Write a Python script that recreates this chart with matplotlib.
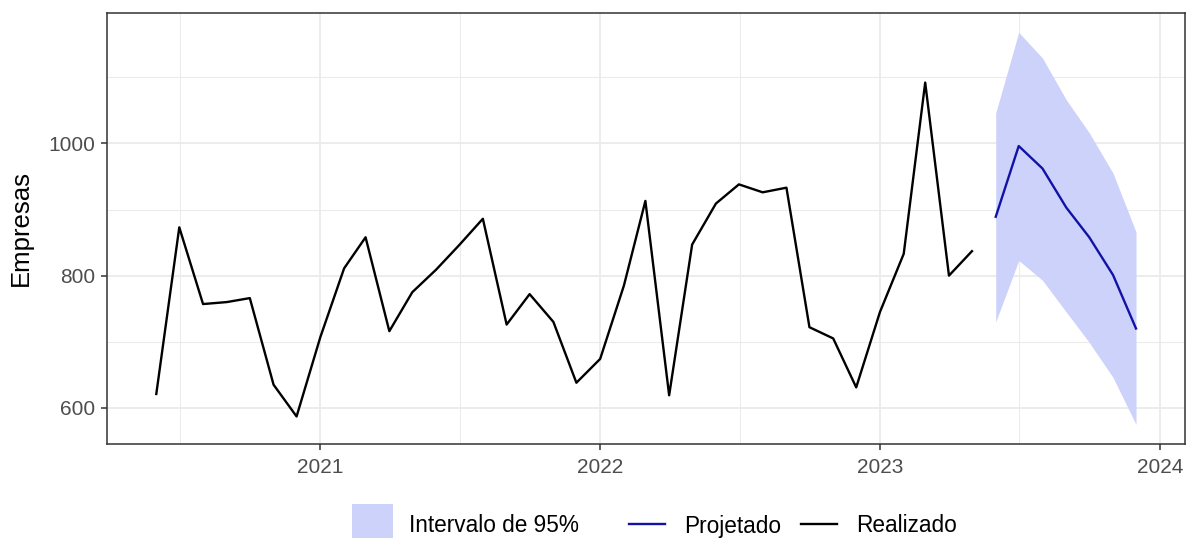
import numpy as np
import pandas as pd
import matplotlib; matplotlib.use("Agg")
import matplotlib.pyplot as plt
import matplotlib.dates as mdates
from matplotlib.patches import Rectangle
from matplotlib.lines import Line2D

plt.rcParams.update({"font.family": "Liberation Sans", "font.size": 12})

# realizado: jun/2020 .. mai/2023
real_dates = pd.date_range("2020-06-01", "2023-05-01", freq="MS")
real_vals = [621, 873, 757, 760, 766, 635, 587, 707, 811, 858, 716, 775,
             809, 846, 886, 726, 772, 730, 638, 674, 785, 913, 619, 847,
             909, 938, 926, 933, 722, 705, 631, 745, 833, 1092, 800, 837]

# projetado: jun/2023 .. dez/2023
proj_dates = pd.date_range("2023-06-01", "2023-12-01", freq="MS")
proj_vals = [889, 996, 962, 903, 858, 801, 720]
proj_hi = [1046, 1168, 1129, 1066, 1016, 955, 866]
proj_lo = [730, 823, 793, 745, 699, 646, 575]

legend_labels = ["Intervalo de 95%", "Projetado", "Realizado"]

RIB = "#CCD2F9"; BLUE = "#1212A6"; GRID = "#EBEBEB"; TXT = "#4D4D4D"
W, H = 1186, 538
LW = 1.7

fig = plt.figure(figsize=(W/100, H/100), dpi=100)
ax = fig.add_axes([107.3/W, 1-444/H, (1185-107.3)/W, (444-12.7)/H])

ax.fill_between(proj_dates, proj_lo, proj_hi, color=RIB, lw=0, zorder=2)
ax.plot(proj_dates, proj_vals, color=BLUE, lw=LW, zorder=3)
ax.plot(real_dates, real_vals, color="black", lw=LW, zorder=3)

# limites com expansão de 5% (estilo ggplot)
x0 = mdates.date2num(real_dates[0]); x1 = mdates.date2num(proj_dates[-1])
dx = 0.05*(x1-x0)
ax.set_xlim(x0-dx, x1+dx)
ymin = min(proj_lo); ymax = max(proj_hi); dy = 0.05*(ymax-ymin)
ax.set_ylim(ymin-dy, ymax+dy)

yrs = [pd.Timestamp(f"{y}-01-01") for y in range(2021, 2025)]
ax.set_xticks(yrs)
ax.set_xticklabels([str(y.year) for y in yrs])
ax.set_xticks([pd.Timestamp(f"{y}-07-02") for y in range(2020, 2024)], minor=True)
ax.set_yticks([600, 800, 1000])
ax.set_yticks([700, 900, 1100], minor=True)

ax.grid(True, which="major", color=GRID, lw=1.3, zorder=0)
ax.grid(True, which="minor", color=GRID, lw=0.75, zorder=0)
ax.set_axisbelow(True)
for s in ax.spines.values():
    s.set_color("#333333"); s.set_linewidth(1.1)
ax.tick_params(which="major", length=4.3, width=1.1, color="#333333", labelcolor=TXT, labelsize=15)
ax.tick_params(axis="x", which="major", pad=5.5)
ax.tick_params(axis="y", which="major", pad=4.3)
ax.tick_params(which="minor", length=0)
ax.set_ylabel("Empresas", fontsize=18.5)
ax.yaxis.set_label_coords((33-107.3)/(1185-107.3), 0.5)

# legenda manual (estilo ggplot, abaixo do painel)
def fx(px): return px/W
def fy(py): return 1-py/H
fig.patches.append(Rectangle((fx(352), fy(538)), fx(393)-fx(352), fy(504)-fy(538),
                             transform=fig.transFigure, facecolor=RIB, edgecolor="none"))
fig.lines.append(Line2D([fx(629), fx(665)], [fy(524), fy(524)], transform=fig.transFigure, color=BLUE, lw=LW))
fig.lines.append(Line2D([fx(801), fx(837)], [fy(524), fy(524)], transform=fig.transFigure, color="black", lw=LW))
for xp, lab in zip([409, 684, 856], legend_labels):
    fig.text(fx(xp), fy(532.5), lab, fontsize=16.3, ha="left", va="baseline", color="black")

fig.savefig("out.png", dpi=100)
